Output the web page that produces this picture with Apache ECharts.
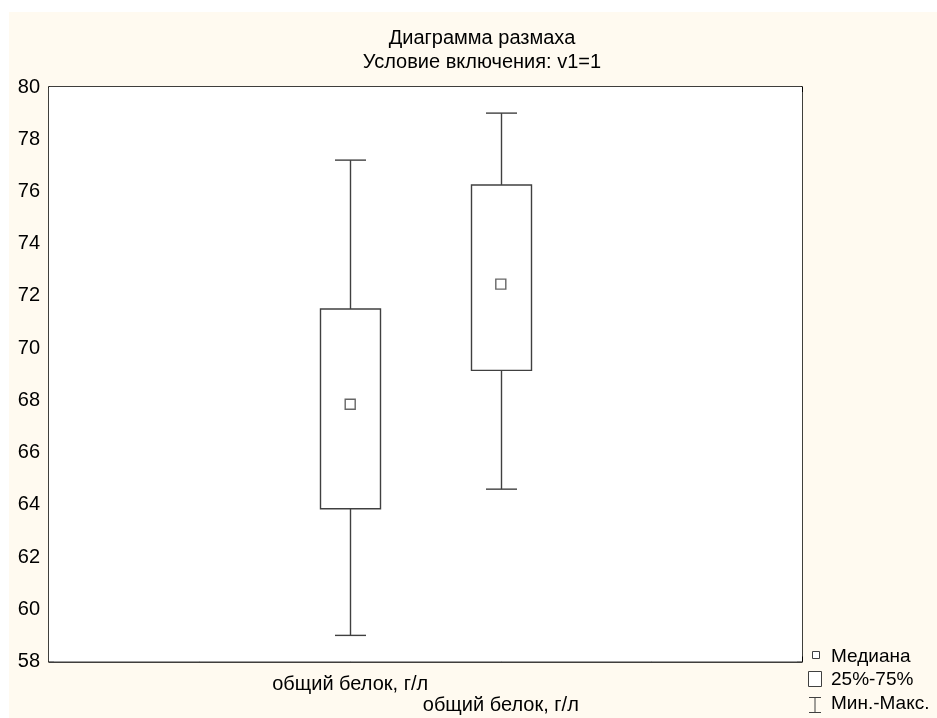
<!DOCTYPE html>
<html>
<head>
<meta charset="utf-8">
<script src="https://cdn.jsdelivr.net/npm/echarts@6/dist/echarts.min.js"></script>
<style>
html,body{margin:0;padding:0;background:#fff;}
#chart{width:937px;height:718px;}
</style>
</head>
<body>
<div id="chart"></div>
<script>
// ---- data ----
const categories = ['', '', 'общий белок, г/л', 'общий белок, г/л', '', ''];
const boxPositions = [2, 3];
const minValues = [59.0, 64.6];
const q1Values = [63.85, 69.15];
const medianValues = [67.85, 72.45];
const q3Values = [71.5, 76.25];
const maxValues = [77.2, 79.0];
const yMin = 58, yMax = 80, yStep = 2;
const titleLines = ['Диаграмма размаха', 'Условие включения: v1=1'];
const legendLabels = ['Медиана', '25%-75%', 'Мин.-Макс.'];

const FONT = '"Liberation Sans", Arial, sans-serif';
const LINE = '#404040';

const boxData = boxPositions.map((p, i) => [p, minValues[i], q1Values[i], medianValues[i], q3Values[i], maxValues[i]]);
const medData = boxPositions.map((p, i) => [p, medianValues[i]]);

const chart = echarts.init(document.getElementById('chart'), null, {renderer: 'canvas'});

const axisBase = {
  axisLine: {show: true, onZero: false, lineStyle: {color: '#000', width: 1.5}},
  axisTick: {show: true, inside: true, length: 5, lineStyle: {color: '#000', width: 1}}
};

chart.setOption({
  backgroundColor: '#fff',
  animation: false,
  grid: {left: 49, right: 135, top: 87, bottom: 56.5, show: true, backgroundColor: '#fff', borderWidth: 0, z: 1},
  graphic: [
    {type: 'rect', z: -10, silent: true, shape: {x: 9, y: 12, width: 928, height: 706}, style: {fill: '#FFFAF0'}},
    {type: 'text', x: 482, y: 38, style: {text: titleLines[0], font: '20px ' + FONT, fill: '#000', textAlign: 'center', textVerticalAlign: 'middle'}},
    {type: 'text', x: 482, y: 62, style: {text: titleLines[1], font: '20px ' + FONT, fill: '#000', textAlign: 'center', textVerticalAlign: 'middle'}},
    {type: 'rect', shape: {x: 812.5, y: 651.5, width: 7, height: 7}, style: {fill: '#fff', stroke: LINE, lineWidth: 1}},
    {type: 'text', x: 831, y: 657, style: {text: legendLabels[0], font: '19px ' + FONT, fill: '#000', textVerticalAlign: 'middle'}},
    {type: 'rect', shape: {x: 808.5, y: 671.5, width: 13, height: 15}, style: {fill: '#fff', stroke: LINE, lineWidth: 1}},
    {type: 'text', x: 831, y: 680, style: {text: legendLabels[1], font: '19px ' + FONT, fill: '#000', textVerticalAlign: 'middle'}},
    {type: 'polyline', shape: {points: [[815, 697.5], [815, 712.5]]}, style: {stroke: LINE, lineWidth: 1}},
    {type: 'polyline', shape: {points: [[809, 697.5], [821, 697.5]]}, style: {stroke: LINE, lineWidth: 1}},
    {type: 'polyline', shape: {points: [[809, 712.5], [821, 712.5]]}, style: {stroke: LINE, lineWidth: 1}},
    {type: 'text', x: 831, y: 704, style: {text: legendLabels[2], font: '19px ' + FONT, fill: '#000', textVerticalAlign: 'middle'}}
  ],
  xAxis: [
    Object.assign({}, axisBase, {
      type: 'category', data: categories, boundaryGap: false, position: 'bottom',
      axisLabel: {
        interval: 0, margin: 12, color: '#000', fontFamily: FONT, fontSize: 20, lineHeight: 21,
        formatter: (v, i) => (i === 3 ? '\n' + v : v)
      },
      splitLine: {show: false}
    }),
    Object.assign({}, axisBase, {
      type: 'category', data: categories, boundaryGap: false, position: 'top',
      axisLabel: {show: false}, splitLine: {show: false}
    })
  ],
  yAxis: [
    Object.assign({}, axisBase, {
      type: 'value', min: yMin, max: yMax, interval: yStep, position: 'left',
      axisLabel: {color: '#000', fontFamily: FONT, fontSize: 20, margin: 9},
      splitLine: {show: true, lineStyle: {color: '#d9d9d9', width: 1.2}}
    }),
    Object.assign({}, axisBase, {
      type: 'value', min: yMin, max: yMax, interval: yStep, position: 'right',
      axisLabel: {show: false}, splitLine: {show: false}
    })
  ],
  series: [
    {
      type: 'custom', name: legendLabels[1], xAxisIndex: 0, yAxisIndex: 0, z: 5,
      data: boxData,
      renderItem: function (params, api) {
        const x = api.value(0);
        const pMin = api.coord([x, api.value(1)]);
        const pQ1 = api.coord([x, api.value(2)]);
        const pQ3 = api.coord([x, api.value(4)]);
        const pMax = api.coord([x, api.value(5)]);
        const cx = Math.round(pMin[0]) + 0.5;
        const bw = 60, cw = 31;
        const st = {stroke: LINE, lineWidth: 1.4, fill: null};
        return {
          type: 'group',
          children: [
            {type: 'line', shape: {x1: cx, y1: pMax[1], x2: cx, y2: pQ3[1]}, style: st},
            {type: 'line', shape: {x1: cx, y1: pQ1[1], x2: cx, y2: pMin[1]}, style: st},
            {type: 'line', shape: {x1: cx - cw / 2, y1: pMax[1], x2: cx + cw / 2, y2: pMax[1]}, style: st},
            {type: 'line', shape: {x1: cx - cw / 2, y1: pMin[1], x2: cx + cw / 2, y2: pMin[1]}, style: st},
            {type: 'rect', shape: {x: cx - bw / 2, y: pQ3[1], width: bw, height: pQ1[1] - pQ3[1]}, style: {stroke: LINE, lineWidth: 1.4, fill: '#fff'}}
          ]
        };
      }
    },
    {
      type: 'scatter', name: legendLabels[0], xAxisIndex: 0, yAxisIndex: 0, z: 6,
      data: medData, symbol: 'rect', symbolSize: 10,
      itemStyle: {color: '#fff', borderColor: LINE, borderWidth: 1.4}
    }
  ]
});
</script>
</body>
</html>
